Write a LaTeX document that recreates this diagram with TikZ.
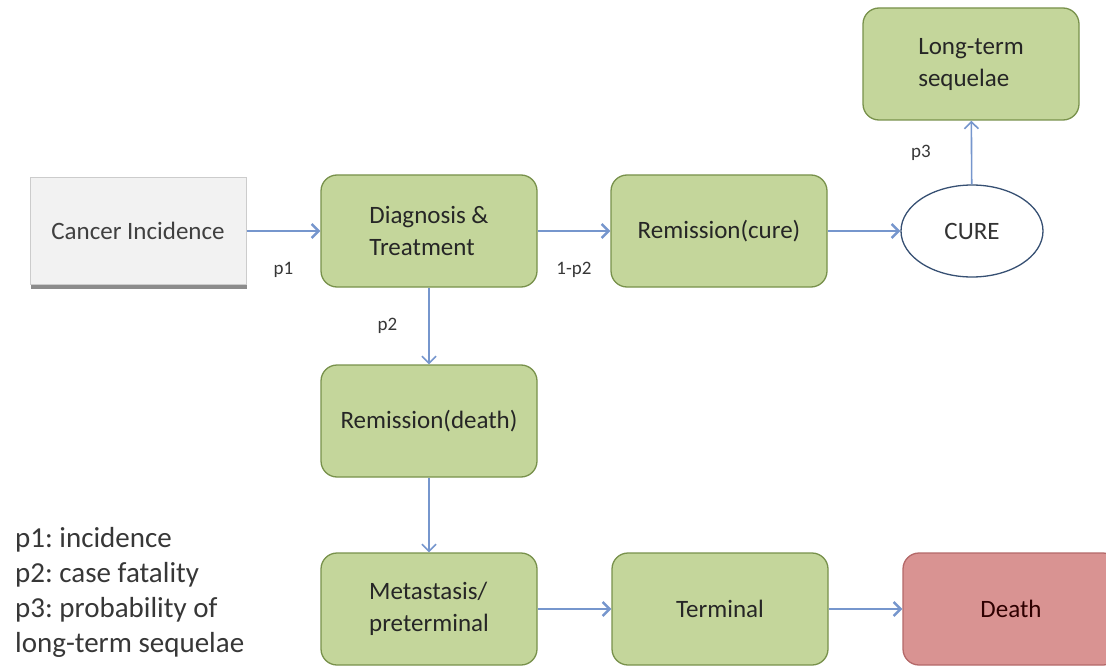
\documentclass[tikz,border=0pt]{standalone}
\usepackage{fontspec}
\setmainfont{Carlito}
\usetikzlibrary{arrows.meta,shadows,shapes.geometric}
\frenchspacing

\definecolor{boxgreen}{RGB}{196,214,155}
\definecolor{boxedge}{RGB}{120,145,75}
\definecolor{deathred}{RGB}{217,147,146}
\definecolor{deathedge}{RGB}{180,105,105}
\definecolor{flowblue}{RGB}{118,150,205}
\definecolor{ringblue}{RGB}{55,80,115}
\definecolor{inkgray}{RGB}{55,55,55}

\begin{document}
\begin{tikzpicture}[x=1pt,y=-1pt,
    stage/.style={rectangle,rounded corners=16pt,draw=boxedge,fill=boxgreen,line width=1.3pt,minimum width=216pt,minimum height=112pt,align=left,text=black!85,font=\fontsize{25}{32}\selectfont},
    start/.style={rectangle,draw=black!20,fill=black!5,line width=1pt,minimum width=216pt,minimum height=106pt,text=black!75,font=\fontsize{25}{32}\selectfont,drop shadow={shadow xshift=1pt,shadow yshift=-5pt,fill=black!45,opacity=1}},
    absorb/.style={stage,draw=deathedge,fill=deathred,text=black!70!red!60!black},
    cure/.style={ellipse,draw=ringblue,fill=white,line width=1.3pt,minimum width=142pt,minimum height=92pt,text=black!80,font=\fontsize{25}{32}\selectfont},
    flow/.style={-{Straight Barb[length=7pt,width=14pt]},draw=flowblue,line width=2.4pt},
    lbl/.style={text=inkgray,font=\fontsize{19}{22}\selectfont,inner sep=2pt}]
      \useasboundingbox (0,0) rectangle (1106,666);
      \clip (0,0) rectangle (1106,666);
      \node (ci) at (138,231) [start] {Cancer Incidence};
      \node (dt) at (429,231) [stage] {Diagnosis \&\\Treatment};
      \node (rc) at (719,231) [stage] {Remission(cure)};
      \node (cu) at (972,231) [cure] {CURE};
      \node (lt) at (971,64) [stage] {Long-term\\sequelae};
      \node (rd) at (429,421) [stage] {Remission(death)};
      \node (mp) at (429,609) [stage] {Metastasis/\\preterminal};
      \node (tm) at (720,609) [stage] {Terminal};
      \node (de) at (1011,609) [absorb] {Death};
      \draw [flow] (ci) to node [lbl,below=28pt] {p1} (dt);
      \draw [flow] (dt) to node [lbl,below=28pt] {1-p2} (rc);
      \draw [flow] (rc) to (cu);
      \draw [flow,line width=1.6pt] (cu) to node [lbl,left=38pt] {p3} (lt);
      \draw [flow,line width=1.6pt] (dt) to node [lbl,left=29pt] {p2} (rd);
      \draw [flow,line width=1.6pt] (rd) to (mp);
      \draw [flow] (mp) to (tm);
      \draw [flow] (tm) to (de);
      % legend
      \node (key) at (15,527) [anchor=north west,inner sep=0pt,align=left,text=inkgray,font=\fontsize{29}{35}\selectfont] {p1: incidence\\p2: case fatality\\p3: probability of\\long-term sequelae};
    \end{tikzpicture}
\end{document}
